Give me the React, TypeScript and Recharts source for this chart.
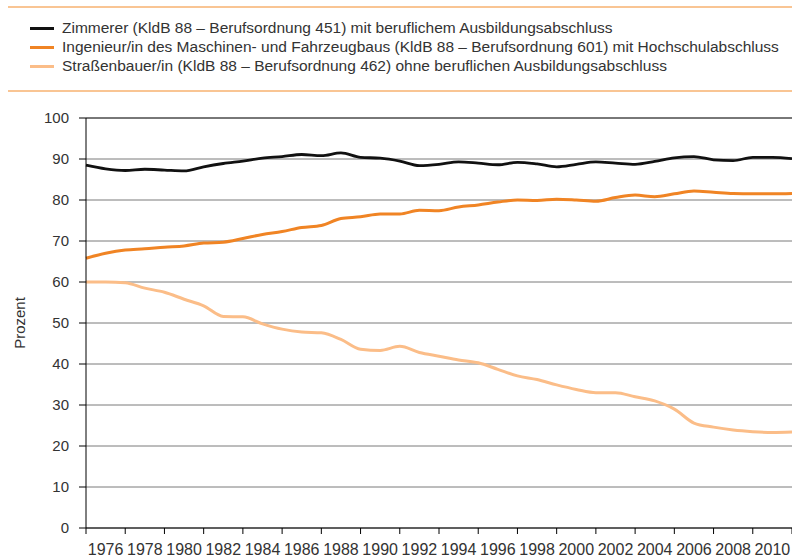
import { LineChart, Line, XAxis, YAxis, CartesianGrid, ReferenceLine } from "recharts";

const years = [
    1975, 1976, 1977, 1978, 1979, 1980, 1981, 1982, 1983, 1984, 1985, 1986, 1987,
    1988, 1989, 1990, 1991, 1992, 1993, 1994, 1995, 1996, 1997, 1998, 1999, 2000,
    2001, 2002, 2003, 2004, 2005, 2006, 2007, 2008, 2009, 2010, 2011,
];

const zimmerer = [
    88.5, 87.6, 87.2, 87.5, 87.3, 87.1, 88.1, 88.9, 89.5, 90.2, 90.6, 91.1, 90.8,
    91.5, 90.4, 90.2, 89.5, 88.4, 88.7, 89.3, 89.0, 88.6, 89.2, 88.8, 88.1, 88.7,
    89.3, 89.0, 88.7, 89.4, 90.3, 90.6, 89.8, 89.6, 90.4, 90.4, 90.1,
];

const ingenieur = [
    65.8, 67.0, 67.8, 68.1, 68.5, 68.8, 69.5, 69.7, 70.6, 71.6, 72.3, 73.3, 73.8,
    75.5, 75.9, 76.6, 76.6, 77.5, 77.4, 78.3, 78.8, 79.5, 80.0, 79.9, 80.2, 80.0,
    79.7, 80.6, 81.2, 80.8, 81.5, 82.2, 81.9, 81.6, 81.5, 81.5, 81.6,
];

const strassenbauer = [
    60.0, 60.0, 59.8, 58.5, 57.5, 55.8, 54.2, 51.6, 51.5, 49.8, 48.5, 47.8, 47.6,
    46.0, 43.6, 43.3, 44.3, 42.8, 41.9, 41.0, 40.3, 38.7, 37.1, 36.2, 34.9, 33.8,
    33.0, 33.0, 32.0, 31.0, 29.0, 25.6, 24.6, 23.9, 23.5, 23.3, 23.4,
];

const yTicks = [0, 10, 20, 30, 40, 50, 60, 70, 80, 90, 100];

const series = [
    { key: "zimmerer", name: "Zimmerer (KldB 88 – Berufsordnung 451) mit beruflichem Ausbildungsabschluss", color: "#111111", width: 2.8 },
    { key: "ingenieur", name: "Ingenieur/in des Maschinen- und Fahrzeugbaus (KldB 88 – Berufsordnung 601) mit Hochschulabschluss", color: "#f08424", width: 3 },
    { key: "strassenbauer", name: "Straßenbauer/in (KldB 88 – Berufsordnung 462) ohne beruflichen Ausbildungsabschluss", color: "#fbbd88", width: 3 },
];

const data = years.map((year, i) => ({
    year,
    zimmerer: zimmerer[i],
    ingenieur: ingenieur[i],
    strassenbauer: strassenbauer[i],
}));

const font = "'Liberation Sans', Arial, sans-serif";
const textColor = "#333";

// odd years get a tick mark, even years get the label
function XTick({ x, y, payload }: any) {
    if (payload.value % 2 === 1) {
        return <line x1={x} x2={x} y1={y} y2={y + 6} stroke="#000" strokeWidth={1} />;
    }
    return (
        <text x={x} y={y + 27} textAnchor="middle" fontSize={16} fontFamily={font} fill={textColor}>
            {payload.value}
        </text>
    );
}

function YLabel({ viewBox }: any) {
    const cx = 19;
    const cy = viewBox.y + viewBox.height / 2;
    return (
        <text
            x={cx} y={cy} transform={`rotate(-90 ${cx} ${cy})`}
            textAnchor="middle" dominantBaseline="central"
            fontSize={15} fontFamily={font} fill={textColor}
        >
            Prozent
        </text>
    );
}

export default function App() {
    return (
        <div style={{ position: "absolute", left: 0, top: 0, width: 792, height: 558, background: "#fff", overflow: "hidden" }}>
            <LineChart width={792} height={558} data={data} margin={{ top: 118, right: 0, bottom: 0, left: 0 }}>
                <CartesianGrid vertical={false} stroke="#7a7a7a" />
                <ReferenceLine y={100} stroke="#333" />
                <XAxis
                    dataKey="year" type="number" domain={[1975, 2011]} ticks={years} interval={0}
                    tickLine={false} tickSize={0} tickMargin={0} height={30}
                    axisLine={{ stroke: "#000" }} tick={<XTick />}
                />
                <YAxis
                    domain={[0, 100]} ticks={yTicks} interval={0} width={86}
                    tickSize={7} tickMargin={10}
                    axisLine={{ stroke: "#000" }} tickLine={{ stroke: "#000" }}
                    tick={{ fontSize: 15, fontFamily: font, fill: textColor }}
                    label={<YLabel />}
                />
                {[...series].reverse().map((s) => (
                    <Line
                        key={s.key} type="monotone" dataKey={s.key} stroke={s.color}
                        strokeWidth={s.width} dot={false}
                        isAnimationActive={false}
                    />
                ))}
            </LineChart>
            <div style={{ position: "absolute", left: 8, right: 0, top: 6, height: 2, background: "#f9c594" }} />
            <div style={{ position: "absolute", left: 8, right: 0, top: 90, height: 2, background: "#f9c594" }} />
            {series.map((s, i) => (
                <div
                    key={s.key}
                    style={{
                        position: "absolute", left: 30, top: 19 + i * 19, height: 18,
                        display: "flex", alignItems: "center", whiteSpace: "nowrap",
                        fontFamily: font, fontSize: 15.5, color: textColor,
                    }}
                >
                    <span style={{ display: "inline-block", width: 24, height: 3, background: s.color, marginRight: 8 }} />
                    {s.name}
                </div>
            ))}
        </div>
    );
}
